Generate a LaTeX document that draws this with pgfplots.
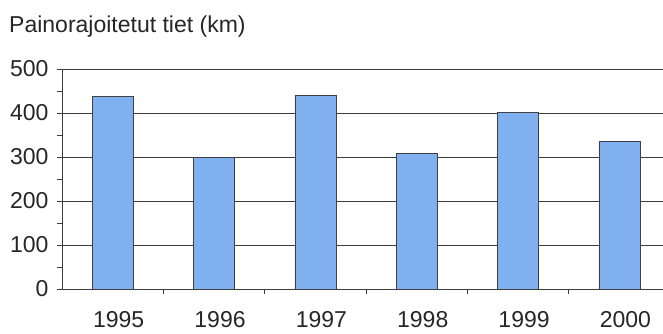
\documentclass[border=0pt]{standalone}
\usepackage{pgfplots}
\pgfplotsset{compat=1.18}
\usepackage{fontspec}
\setmainfont{Liberation Sans}
\definecolor{barblue}{RGB}{128,176,240}
\definecolor{gridc}{RGB}{60,60,60}
\begin{document}
\begin{tikzpicture}[x=1bp,y=1bp]
\useasboundingbox (0,0) rectangle (663,333);
\node[anchor=base west,inner sep=0pt,font=\fontsize{23bp}{26bp}\selectfont,text=black!85] at (9,301) {Painorajoitetut tiet (km)};
\begin{axis}[
  at={(62bp,44bp)}, anchor=south west,
  scale only axis, width=601bp, height=220bp,
  xmin=-0.5, xmax=5.43, ymin=0, ymax=500,
  axis lines*=left, axis line style={-,gridc,line width=0.8pt},
  xtick={0,...,5}, xticklabels={1995,1996,1997,1998,1999,2000},
  major x tick style={draw=none},
  minor xtick={0.5,1.5,2.5,3.5,4.5},
  minor x tick style={gridc,line width=0.7pt},
  minor ytick={50,150,250,350,450},
  minor y tick style={gridc,line width=0.6pt},
  minor tick length=5bp,
  ytick={0,100,...,500},
  ymajorgrids, grid style={gridc,line width=0.8pt},
  major y tick style={gridc,line width=0.7pt},
  major tick length=5bp,
  tick align=outside,
  /pgf/number format/assume math mode=true,
  ticklabel style={font=\fontsize{23bp}{26bp}\selectfont,text=black!85},
  xticklabel style={anchor=base,yshift=-33bp,xshift=6bp,inner sep=0pt},
  yticklabel style={xshift=-5bp},
  ybar, bar width=41bp,
  clip=false,
]
\addplot[fill=barblue, draw=black!75, line width=0.6pt] coordinates {
  (0,438) (1,300) (2,440) (3,309) (4,402) (5,336)
};
\end{axis}
\end{tikzpicture}
\end{document}
